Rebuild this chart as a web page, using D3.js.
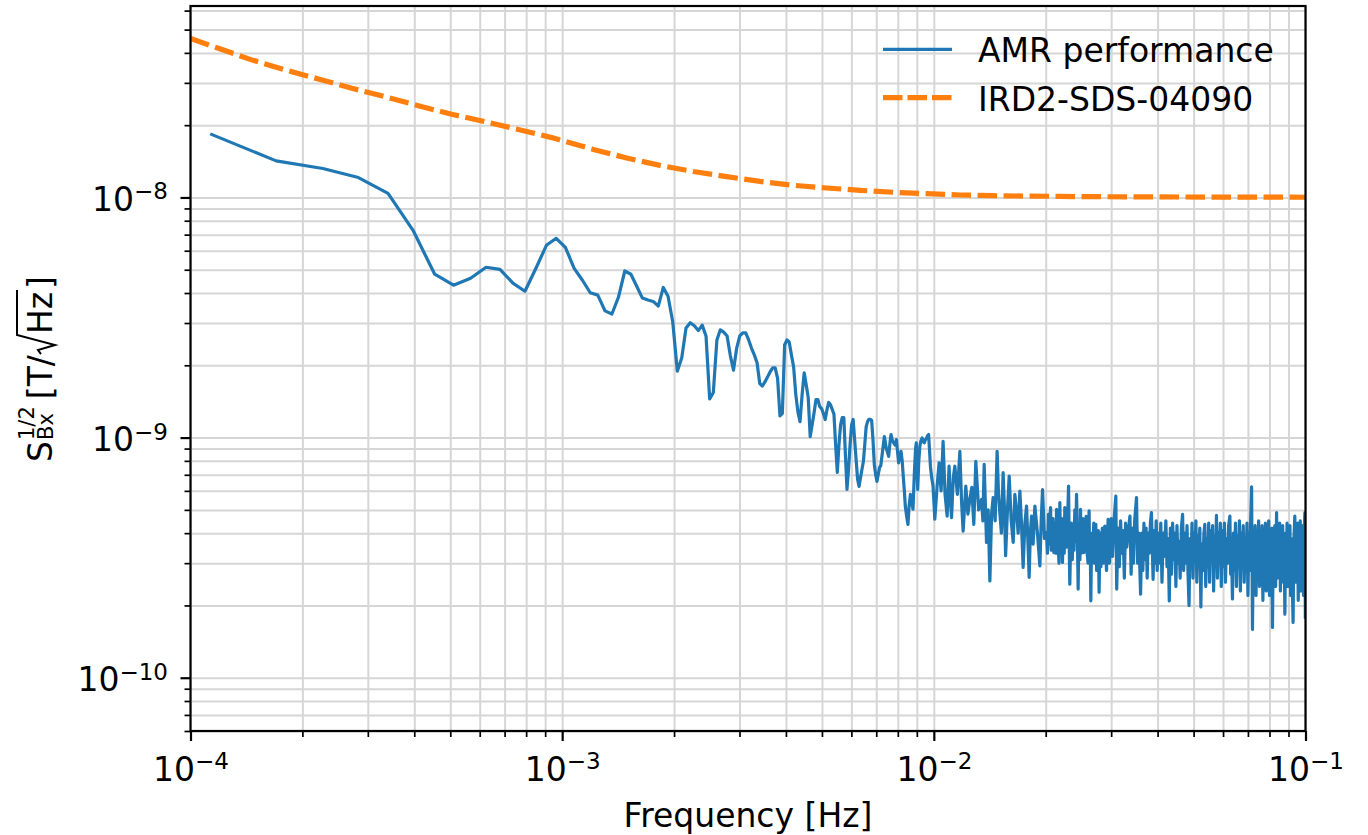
<!DOCTYPE html>
<html>
<head>
<meta charset="utf-8">
<title>AMR noise spectrum</title>
<script src="https://cdn.jsdelivr.net/npm/d3@7"></script>
<style>
    body { margin: 0; background: #fff; }
    svg text { font-family: "DejaVu Sans", sans-serif; fill: #000; }
</style>
</head>
<body>
<svg id="chart" width="1368" height="835"></svg>
<script>
// [frequency in mHz, amplitude spectral density in nT/sqrt(Hz)]
const amrLowBand = [
    [0.113, 18.4], [0.170, 14.2], [0.227, 13.2], [0.283, 12.1], [0.340, 10.4], [0.397, 7.3], [0.454, 4.79], [0.510, 4.31], [0.567, 4.61], [0.624, 5.12],
    [0.680, 5.02], [0.737, 4.40], [0.794, 4.07], [0.850, 5.07], [0.907, 6.32], [0.964, 6.76], [1.020, 6.2], [1.077, 5.07], [1.134, 4.52], [1.190, 4.01],
    [1.247, 3.92], [1.304, 3.37], [1.361, 3.27], [1.417, 3.84], [1.474, 4.94], [1.531, 4.79], [1.587, 4.27], [1.644, 3.81], [1.701, 3.74], [1.757, 3.69],
    [1.814, 3.53], [1.871, 4.22], [1.927, 3.88], [1.984, 3.03], [2.041, 1.89], [2.098, 2.15], [2.154, 2.86], [2.211, 3.01], [2.268, 2.92], [2.324, 2.79],
    [2.381, 2.94], [2.438, 2.65], [2.494, 1.45], [2.551, 1.54], [2.608, 2.55], [2.664, 2.81], [2.721, 2.75], [2.778, 2.65], [2.835, 2.19], [2.891, 1.91],
    [2.948, 2.36], [3.005, 2.65], [3.061, 2.73], [3.118, 2.73], [3.175, 2.55], [3.231, 2.36], [3.288, 2.21], [3.345, 2.05], [3.401, 1.68], [3.458, 1.64],
    [3.515, 1.71], [3.571, 1.79], [3.628, 1.88], [3.685, 1.95], [3.742, 1.95], [3.798, 1.77], [3.855, 1.23], [3.912, 1.26], [3.968, 2.43], [4.025, 2.55],
    [4.082, 2.50], [4.138, 2.21], [4.195, 1.97], [4.252, 1.51], [4.308, 1.28], [4.365, 1.165], [4.422, 1.51], [4.479, 1.86], [4.535, 1.66], [4.592, 1.47],
    [4.649, 1.01], [4.705, 1.13], [4.762, 1.27], [4.819, 1.44], [4.875, 1.44], [4.932, 1.345], [4.989, 1.32], [5.045, 1.26], [5.102, 1.19], [5.159, 1.31],
    [5.215, 1.40], [5.272, 1.37], [5.329, 1.31], [5.386, 1.25], [5.442, 0.935], [5.499, 0.716], [5.556, 0.935], [5.612, 1.13], [5.669, 1.21], [5.726, 1.21],
    [5.782, 0.85], [5.839, 0.608], [5.896, 0.737], [5.952, 0.935], [6.009, 1.13], [6.066, 1.19], [6.122, 0.981], [6.179, 0.81], [6.236, 0.67], [6.293, 0.626],
    [6.349, 0.682], [6.406, 0.737], [6.463, 0.795], [6.519, 0.935], [6.576, 1.11], [6.633, 1.165], [6.689, 1.19], [6.746, 1.19], [6.803, 1.18], [6.859, 0.981],
    [6.916, 0.773], [6.973, 0.702], [7.030, 0.657], [7.086, 0.702], [7.143, 0.751], [7.200, 0.765]
]

const amrMidBand = [
    [7.36, 1.01], [7.45, 0.90], [7.56, 0.836], [7.62, 0.95], [7.67, 1.03], [7.74, 0.97], [7.80, 0.951], [7.87, 0.93], [7.93, 0.981], [8.04, 0.785],
    [8.10, 0.84], [8.16, 0.877], [8.22, 0.80], [8.27, 0.70], [8.33, 0.60], [8.38, 0.519], [8.45, 0.47], [8.52, 0.435], [8.58, 0.52], [8.65, 0.580],
    [8.72, 0.54], [8.79, 0.503], [8.86, 0.70], [8.93, 0.90], [8.97, 0.951], [9.01, 0.75], [9.05, 0.608], [9.11, 0.80], [9.17, 0.92], [9.23, 0.97],
    [9.30, 0.997], [9.36, 0.96], [9.43, 0.951], [9.49, 0.98], [9.55, 0.99], [9.62, 1.02], [9.68, 1.03], [9.74, 0.88], [9.79, 0.760], [9.87, 0.68],
    [9.95, 0.629], [10.02, 0.52]
]

const amrNoise10to20 = [
    [10.06, 0.457], [10.2, 0.62], [10.33, 0.785], [10.46, 0.60], [10.59, 0.965], [10.72, 0.58], [10.86, 0.471], [10.99, 0.760], [11.08, 0.55], [11.16, 0.464],
    [11.28, 0.68], [11.39, 0.760], [11.57, 0.58], [11.75, 0.877], [11.87, 0.55], [11.99, 0.408], [12.19, 0.628], [12.35, 0.48], [12.50, 0.553], [12.65, 0.62],
    [12.81, 0.435], [12.97, 0.797], [13.2, 0.50], [13.44, 0.553], [13.55, 0.45], [13.66, 0.773], [13.86, 0.366], [14.0, 0.50], [14.15, 0.253], [14.30, 0.48],
    [14.44, 0.562], [14.62, 0.45], [14.80, 0.877], [14.92, 0.60], [15.05, 0.487], [15.2, 0.40], [15.36, 0.714], [15.48, 0.52], [15.60, 0.322], [15.78, 0.50],
    [15.95, 0.691], [16.15, 0.45], [16.35, 0.366], [16.52, 0.58], [16.69, 0.495], [16.86, 0.40], [17.04, 0.599], [17.2, 0.45], [17.39, 0.288], [17.58, 0.44],
    [17.76, 0.519], [17.9, 0.38], [18.05, 0.262], [18.18, 0.40], [18.32, 0.471], [18.5, 0.36], [18.70, 0.519], [19.0, 0.40], [19.29, 0.292], [19.45, 0.45],
    [19.61, 0.608], [19.85, 0.38]
]

const amrNoise20to30 = [
    [20.10, 0.402], [20.22, 0.33], [20.35, 0.48], [20.48, 0.36], [20.61, 0.511], [20.7, 0.34], [20.8, 0.42], [20.92, 0.46], [21.03, 0.332], [21.1, 0.38],
    [21.2, 0.44], [21.3, 0.33], [21.39, 0.503], [21.5, 0.42], [21.6, 0.36], [21.72, 0.30], [21.83, 0.536], [21.92, 0.34], [22.0, 0.40], [22.1, 0.46],
    [22.19, 0.302], [22.27, 0.38], [22.35, 0.45], [22.43, 0.33], [22.51, 0.511], [22.63, 0.40], [22.75, 0.35], [22.9, 0.45], [23.04, 0.628], [23.12, 0.38],
    [23.22, 0.245], [23.33, 0.36], [23.45, 0.44], [23.58, 0.31], [23.70, 0.402], [23.83, 0.34], [23.95, 0.50], [24.08, 0.37], [24.21, 0.580], [24.33, 0.40],
    [24.45, 0.234], [24.53, 0.35], [24.62, 0.42], [24.72, 0.31], [24.81, 0.503], [24.93, 0.33], [25.05, 0.38], [25.2, 0.46], [25.33, 0.332], [25.5, 0.40],
    [25.7, 0.47], [25.85, 0.33], [26.0, 0.30], [26.08, 0.42], [26.17, 0.495], [26.23, 0.33], [26.30, 0.38], [26.38, 0.31], [26.45, 0.209], [26.55, 0.34],
    [26.65, 0.40], [26.74, 0.31], [26.83, 0.377], [26.94, 0.44], [27.05, 0.30], [27.16, 0.37], [27.28, 0.435], [27.42, 0.28], [27.55, 0.32], [27.7, 0.41],
    [27.84, 0.227], [27.95, 0.35], [28.05, 0.40], [28.15, 0.29], [28.26, 0.343], [28.4, 0.42], [28.55, 0.30], [28.7, 0.37], [28.84, 0.428], [29.0, 0.33],
    [29.15, 0.28], [29.3, 0.38], [29.44, 0.457], [29.57, 0.34], [29.7, 0.30], [29.85, 0.40]
]

const amrNoise30to100 = [
    [30.0, 0.46], [30.25, 0.32], [30.5, 0.44], [30.88, 0.571], [31.05, 0.234], [31.3, 0.42], [31.55, 0.29], [31.8, 0.45], [32.05, 0.33], [32.3, 0.41],
    [32.55, 0.26], [32.8, 0.44], [33.05, 0.35], [33.3, 0.40], [33.7, 0.471], [33.95, 0.27], [34.2, 0.42], [34.45, 0.30], [34.7, 0.45], [35.1, 0.562],
    [35.35, 0.30], [35.6, 0.40], [35.8, 0.30], [36.0, 0.223], [36.25, 0.40], [36.5, 0.28], [36.75, 0.44], [37.0, 0.31], [37.25, 0.42], [37.5, 0.26],
    [37.75, 0.40], [38.0, 0.33], [38.25, 0.44], [38.5, 0.487], [38.9, 0.257], [39.15, 0.41], [39.4, 0.30], [39.65, 0.45], [39.9, 0.28], [40.2, 0.40],
    [40.5, 0.30], [40.8, 0.44], [41.1, 0.25], [41.4, 0.40], [41.7, 0.32], [42.1, 0.45], [42.4, 0.29], [42.7, 0.38], [43.0, 0.209], [43.3, 0.42],
    [43.6, 0.27], [43.9, 0.44], [44.2, 0.31], [44.5, 0.40], [44.8, 0.24], [45.1, 0.43], [45.4, 0.30], [45.7, 0.37], [46.0, 0.26], [46.35, 0.42],
    [46.7, 0.479], [47.0, 0.28], [47.35, 0.40], [47.7, 0.30], [48.0, 0.43], [48.3, 0.27], [48.6, 0.20], [48.9, 0.38], [49.2, 0.29], [49.5, 0.44],
    [49.8, 0.26], [50.1, 0.40], [50.4, 0.31], [50.7, 0.45], [51.0, 0.25], [51.3, 0.39], [51.6, 0.30], [51.95, 0.42], [52.3, 0.197], [52.6, 0.36],
    [52.95, 0.28], [53.3, 0.40], [53.6, 0.435], [53.9, 0.24], [54.2, 0.38], [54.55, 0.29], [54.9, 0.44], [55.2, 0.25], [55.55, 0.41], [55.9, 0.31],
    [56.25, 0.43], [56.6, 0.23], [56.95, 0.39], [57.3, 0.30], [57.6, 0.475], [57.95, 0.26], [58.3, 0.40], [58.65, 0.31], [59.0, 0.44], [59.35, 0.24],
    [59.7, 0.41], [60.1, 0.29], [60.5, 0.44], [60.9, 0.25], [61.3, 0.38], [61.7, 0.30], [62.1, 0.43], [62.6, 0.471], [62.9, 0.27], [63.2, 0.35],
    [63.6, 0.213], [64.0, 0.40], [64.4, 0.28], [64.8, 0.44], [65.2, 0.24], [65.6, 0.39], [66.0, 0.30], [66.4, 0.45], [66.8, 0.23], [67.2, 0.40],
    [67.6, 0.29], [68.0, 0.43], [68.4, 0.25], [68.8, 0.38], [69.2, 0.31], [69.6, 0.44], [70.0, 0.22], [70.4, 0.40], [70.8, 0.28], [71.2, 0.45],
    [71.6, 0.624], [72.0, 0.159], [72.4, 0.38], [72.8, 0.27], [73.2, 0.43], [73.6, 0.22], [74.0, 0.41], [74.4, 0.30], [74.8, 0.45], [75.2, 0.24],
    [75.6, 0.37], [76.0, 0.29], [76.4, 0.43], [76.8, 0.21], [77.2, 0.40], [77.6, 0.31], [78.0, 0.44], [78.4, 0.23], [78.8, 0.39], [79.2, 0.28],
    [79.6, 0.45], [80.0, 0.22], [80.4, 0.37], [80.8, 0.30], [81.2, 0.42], [81.5, 0.162], [81.9, 0.38], [82.3, 0.27], [82.7, 0.43], [83.1, 0.24],
    [83.6, 0.487], [84.0, 0.26], [84.4, 0.40], [84.8, 0.30], [85.2, 0.44], [85.6, 0.23], [86.0, 0.38], [86.4, 0.28], [86.8, 0.43], [87.2, 0.25],
    [87.6, 0.40], [88.0, 0.184], [88.4, 0.37], [88.8, 0.29], [89.2, 0.44], [89.6, 0.24], [90.0, 0.40], [90.4, 0.30], [90.8, 0.43], [91.2, 0.22],
    [91.6, 0.38], [92.0, 0.28], [92.6, 0.170], [93.0, 0.36], [93.6, 0.471], [94.0, 0.25], [94.4, 0.40], [94.8, 0.29], [95.2, 0.44], [95.6, 0.21],
    [96.0, 0.38], [96.4, 0.30], [96.8, 0.45], [97.2, 0.23], [97.6, 0.40], [98.0, 0.27], [98.4, 0.43], [98.8, 0.22], [99.2, 0.39], [99.6, 0.487],
    [99.9, 0.176]
]

const requirement = [
    [0.100, 45.9], [0.1188, 41.8], [0.1461, 37.4], [0.1796, 34.0], [0.2207, 31.15], [0.2715, 28.5], [0.3337, 26.3], [0.4102, 24.1],
    [0.5042, 22.2], [0.6198, 20.7], [0.7618, 19.2], [0.9372, 17.75], [1.213, 15.85], [1.491, 14.6], [1.833, 13.6], [2.253, 12.83],
    [2.771, 12.21], [3.406, 11.66], [4.187, 11.24], [5.148, 10.95], [6.328, 10.71], [7.777, 10.51], [9.56, 10.37], [11.76, 10.24],
    [14.45, 10.17], [17.77, 10.13], [21.84, 10.11], [25.0, 10.08], [40.0, 10.05], [60.0, 10.03], [100.0, 10.02]
]

const xMajorTicks = [1e-4, 1e-3, 1e-2, 1e-1]
const xTickExponents = ["\u22124", "\u22123", "\u22122", "\u22121"]
const yMajorTicks = [1e-10, 1e-9, 1e-8]
const yTickExponents = ["\u221210", "\u22129", "\u22128"]
const seriesNames = ["AMR performance", "IRD2-SDS-04090"]
const seriesColors = ["#1f77b4", "#ff7f0e"]

const frame = { left: 190.5, right: 1305.5, top: 6, bottom: 731 }

let svg = d3.select("#chart")
let x = d3.scaleLog().domain([1e-4, 1e-1]).range([frame.left, frame.right])
let y = d3.scaleLog().domain([6.0e-11, 6.27e-8]).range([frame.bottom, frame.top])

// mHz -> Hz, nT -> T
const toSI = (d) => [d[0] * 1e-3, d[1] * 1e-9]
let amr = amrLowBand.concat(amrMidBand, amrNoise10to20, amrNoise20to30, amrNoise30to100).map(toSI)
let req = requirement.map(toSI)

const isMajor = (v) => Math.abs(Math.log10(v) - Math.round(Math.log10(v))) < 1e-6

// grid, major and minor
let grid = svg.append("g").attr("class", "grid")
grid.append("g")
    .attr("transform", "translate(0," + frame.bottom + ")")
    .call(d3.axisBottom(x).tickValues(x.ticks()).tickSize(-(frame.bottom - frame.top)).tickFormat(""))
grid.append("g")
    .attr("transform", "translate(" + frame.left + ",0)")
    .call(d3.axisLeft(y).tickValues(y.ticks()).tickSize(-(frame.right - frame.left)).tickFormat(""))
grid.selectAll(".domain").remove()
grid.selectAll("line").attr("stroke", "#d6d6d6").attr("stroke-width", 2)

svg.append("clipPath").attr("id", "plot-clip")
    .append("rect")
    .attr("x", frame.left).attr("y", frame.top)
    .attr("width", frame.right - frame.left).attr("height", frame.bottom - frame.top)

let line = d3.line().x((d) => x(d[0])).y((d) => y(d[1]))
let lines = svg.append("g").attr("clip-path", "url(#plot-clip)")
lines.append("path").datum(amr)
    .attr("d", line).attr("fill", "none")
    .attr("stroke", seriesColors[0]).attr("stroke-width", 3.2)
    .attr("stroke-linejoin", "round")
lines.append("path").datum(req)
    .attr("d", line).attr("fill", "none")
    .attr("stroke", seriesColors[1]).attr("stroke-width", 5.2)
    .attr("stroke-dasharray", "19.5,6.5")

svg.append("rect")
    .attr("x", frame.left).attr("y", frame.top)
    .attr("width", frame.right - frame.left).attr("height", frame.bottom - frame.top)
    .attr("fill", "none").attr("stroke", "#000").attr("stroke-width", 2.2)

// ticks
let xAxis = svg.append("g").attr("transform", "translate(0," + frame.bottom + ")")
    .call(d3.axisBottom(x).tickValues(xMajorTicks).tickSize(10).tickFormat(""))
let xMinor = svg.append("g").attr("transform", "translate(0," + frame.bottom + ")")
    .call(d3.axisBottom(x).tickValues(x.ticks().filter((v) => !isMajor(v))).tickSize(6).tickFormat(""))
let yAxis = svg.append("g").attr("transform", "translate(" + frame.left + ",0)")
    .call(d3.axisLeft(y).tickValues(yMajorTicks).tickSize(10).tickFormat(""))
let yMinor = svg.append("g").attr("transform", "translate(" + frame.left + ",0)")
    .call(d3.axisLeft(y).tickValues(y.ticks().filter((v) => !isMajor(v))).tickSize(6).tickFormat(""))

;[xAxis, xMinor, yAxis, yMinor].forEach((g) => g.select(".domain").remove())
xAxis.selectAll(".tick line").attr("stroke", "#000").attr("stroke-width", 2.2)
yAxis.selectAll(".tick line").attr("stroke", "#000").attr("stroke-width", 2.2)
xMinor.selectAll(".tick line").attr("stroke", "#000").attr("stroke-width", 1.7)
yMinor.selectAll(".tick line").attr("stroke", "#000").attr("stroke-width", 1.7)

xAxis.selectAll(".tick").each(function (d, i) {
    let t = d3.select(this).append("text")
        .attr("y", 49.7).attr("text-anchor", "middle")
        .style("font-size", "33px")
    t.append("tspan").text("10")
    t.append("tspan").attr("dy", -12).style("font-size", "23px").text(xTickExponents[i])
})

yAxis.selectAll(".tick").each(function (d, i) {
    let t = d3.select(this).append("text")
        .attr("x", -22.5).attr("y", 13.2).attr("text-anchor", "end")
        .style("font-size", "33px")
    t.append("tspan").text("10")
    t.append("tspan").attr("dy", -11.7).style("font-size", "23px").text(yTickExponents[i])
})

svg.append("text")
    .attr("x", (frame.left + frame.right) / 2).attr("y", 827)
    .attr("text-anchor", "middle").style("font-size", "33px")
    .text("Frequency [Hz]")

// y label: S_Bx^{1/2} [T/sqrt(Hz)]
let ylab = svg.append("g")
let sText = ylab.append("text").attr("x", 0).attr("y", 0).style("font-size", "33px").text("S")
let sW = sText.node().getComputedTextLength()
let sup = ylab.append("text").attr("x", sW + 1).attr("y", -18.5).style("font-size", "21px").text("1/2")
let sub = ylab.append("text").attr("x", sW + 1).attr("y", 1).style("font-size", "21px").text("Bx")
let scriptEnd = sW + 1 + Math.max(sup.node().getComputedTextLength(), sub.node().getComputedTextLength())
let openX = scriptEnd + 7
let open = ylab.append("text").attr("x", openX).attr("y", 0).style("font-size", "33px").text("[T/")
let rx = openX + open.node().getComputedTextLength()
let hz = ylab.append("text").attr("x", rx + 21).attr("y", 0).style("font-size", "33px").text("Hz")
let hzEnd = rx + 21 + hz.node().getComputedTextLength()
ylab.append("path")
    .attr("d", "M" + (rx + 1) + ",-11 L" + (rx + 5) + ",-14 L" + (rx + 10) + ",3 L" + (rx + 20) + ",-35 L" + (hzEnd + 2) + ",-35")
    .attr("fill", "none").attr("stroke", "#000").attr("stroke-width", 2)
let close = ylab.append("text").attr("x", hzEnd + 3).attr("y", 0).style("font-size", "33px").text("]")
let total = hzEnd + 3 + close.node().getComputedTextLength()
ylab.attr("transform", "translate(52," + (369 + total / 2) + ") rotate(-90)")

// legend
let legend = svg.append("g")
seriesNames.forEach((name, i) => {
    let ly = 49.3 + i * 48.4
    legend.append("line")
        .attr("x1", 883).attr("x2", 952).attr("y1", ly).attr("y2", ly)
        .attr("stroke", seriesColors[i])
        .attr("stroke-width", i === 0 ? 3.2 : 5.2)
        .attr("stroke-dasharray", i === 0 ? null : "19.5,5")
    legend.append("text")
        .attr("x", 978).attr("y", ly + 13)
        .style("font-size", "33px")
        .text(name)
})
</script>
</body>
</html>
